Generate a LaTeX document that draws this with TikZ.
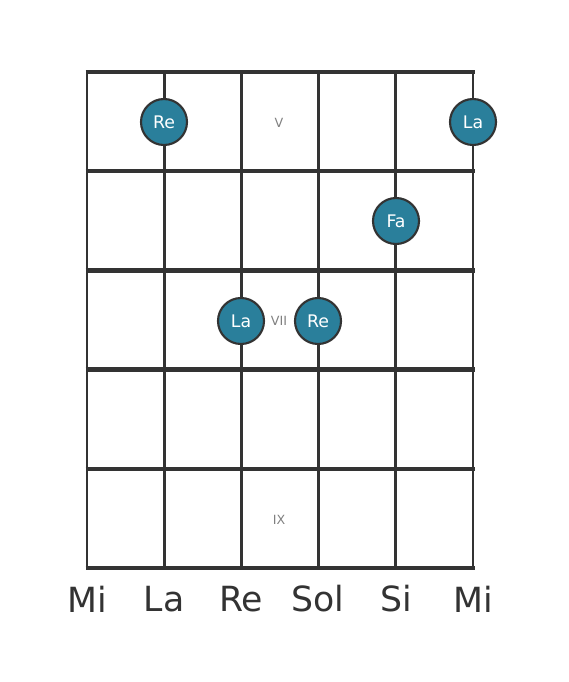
\documentclass[tikz,border=0pt]{standalone}
\usepackage{fontspec}
\setmainfont{DejaVu Sans}
\definecolor{gridgray}{HTML}{333333}
\definecolor{dotblue}{HTML}{2A7F9B}

\tikzset{
  note/.style={circle,draw=gridgray,line width=1.6pt,fill=dotblue,text=white,
    minimum size=34.5pt,inner sep=0pt,font=\fontsize{13}{13}\selectfont},
  fretnum/.style={text=gray,font=\fontsize{9.5}{9.5}\selectfont},
  strname/.style={text=gridgray,font=\fontsize{26}{26}\selectfont}
}

\begin{document}
\begin{tikzpicture}[x=0.75pt,y=-0.75pt]

  \useasboundingbox (0,0) rectangle (568,682);

  % strings
  \foreach \s in {0,...,5}
    \draw[gridgray,line width=2.2pt] (87+77.2*\s,72) -- (87+77.2*\s,568);
  % frets
  \foreach \f in {0,...,5}
    \draw[gridgray,line width=3.2pt] (85.5,72+99.2*\f) -- (474.5,72+99.2*\f);

  \node[fretnum] (v) at (279,123) {V};
  \node[fretnum] (vii) at (279,321) {VII};
  \node[fretnum] (ix) at (279,520) {IX};

  \node[note] (re1) at (164,122) {Re};
  \node[note] (la1) at (473,122) {La};
  \node[note] (fa) at (396,221) {Fa};
  \node[note] (la2) at (241,321) {La};
  \node[note] (re2) at (318,321) {Re};

  \node[strname] (s1) at (87,599) {Mi};
  \node[strname] (s2) at (164,599) {La};
  \node[strname] (s3) at (241,599) {Re};
  \node[strname] (s4) at (318,599) {Sol};
  \node[strname] (s5) at (396,599) {Si};
  \node[strname] (s6) at (473,599) {Mi};

\end{tikzpicture}
\end{document}
